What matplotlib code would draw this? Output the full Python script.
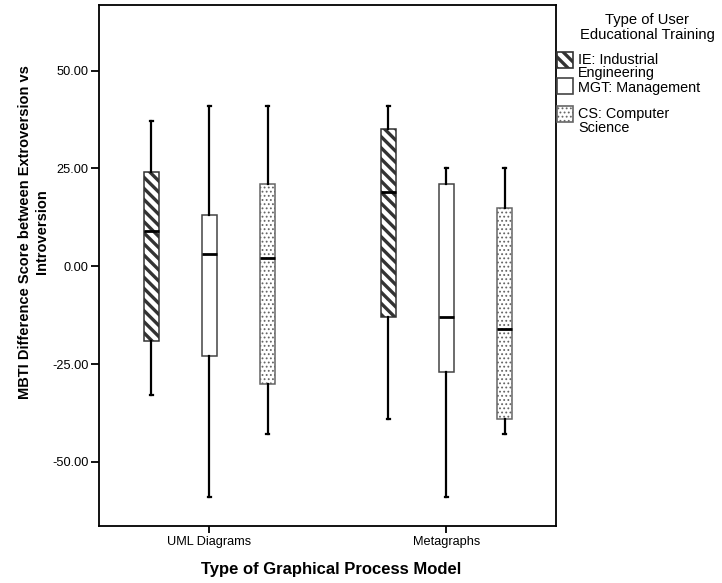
import matplotlib
matplotlib.use('Agg')
import matplotlib.pyplot as plt
from matplotlib.patches import Rectangle
from matplotlib.ticker import FormatStrFormatter

# data
categories = ['UML Diagrams', 'Metagraphs']
groups = ['IE: Industrial\nEngineering', 'MGT: Management', 'CS: Computer\nScience']
whislo = [[-33, -59, -43], [-39, -59, -43]]
q1 = [[-19, -23, -30], [-13, -27, -39]]
med = [[9, 3, 2], [19, -13, -16]]
q3 = [[24, 13, 21], [35, 21, 15]]
whishi = [[37, 41, 41], [41, 25, 25]]
yticks = [-50, -25, 0, 25, 50]

plt.rcParams['font.family'] = ['Liberation Sans', 'DejaVu Sans']
plt.rcParams['hatch.linewidth'] = 2.4

W, H = 722, 583
fig = plt.figure(figsize=(W / 100, H / 100), dpi=100)


def fx(px):
    return px / W


def fy(py):
    return 1 - py / H


ax = fig.add_axes([fx(98.5), fy(526), 457 / W, 521.5 / H])

offsets = [-0.245, 0.0, 0.245]
hatches = ['\\\\\\', '', '....']
edges = ['#333333', '#444444', '#666666']

stats, positions = [], []
for i in range(len(categories)):
    for j in range(len(groups)):
        stats.append(dict(whislo=whislo[i][j], q1=q1[i][j], med=med[i][j],
                          q3=q3[i][j], whishi=whishi[i][j], fliers=[]))
        positions.append(i + offsets[j])

bp = ax.bxp(stats, positions=positions, widths=0.065, patch_artist=True,
            showfliers=False, capwidths=0.012,
            boxprops=dict(facecolor='white', edgecolor='#333333', linewidth=1.1),
            medianprops=dict(color='black', linewidth=2.0),
            whiskerprops=dict(color='black', linewidth=1.6),
            capprops=dict(color='black', linewidth=1.6))

for k, box in enumerate(bp['boxes']):
    j = k % 3
    box.set_hatch(hatches[j])
    box.set_edgecolor(edges[j])
    if j == 2:
        try:
            box.set_hatch_linewidth(0.8)
        except AttributeError:
            pass

ax.set_xlim(-0.468, 1.460)
ax.set_ylim(-66.4, 66.9)
ax.set_xticks([0, 1])
ax.set_xticklabels(categories)
ax.set_yticks(yticks)
ax.yaxis.set_major_formatter(FormatStrFormatter('%.2f'))
ax.tick_params(axis='y', length=6, width=1.3, pad=1, labelsize=9.2)
ax.tick_params(axis='x', length=5, width=1.3, pad=2, labelsize=9.2)
for sp in ax.spines.values():
    sp.set_linewidth(1.3)

# axis titles
fig.text(fx(331), fy(574), 'Type of Graphical Process Model', ha='center',
         va='baseline', fontsize=12, fontweight='bold')
fig.text(fx(29), fy(232), 'MBTI Difference Score between Extroversion vs',
         rotation=90, rotation_mode='anchor', ha='center', va='baseline',
         fontsize=10.5, fontweight='bold')
fig.text(fx(46), fy(232), 'Introversion', rotation=90, rotation_mode='anchor',
         ha='center', va='baseline', fontsize=10.5, fontweight='bold')

# legend drawn by hand to keep the SPSS layout
fig.text(fx(647), fy(24), 'Type of User', ha='center', va='baseline', fontsize=10.6)
fig.text(fx(647), fy(38.5), 'Educational Training', ha='center', va='baseline', fontsize=10.6)
patch_tops = [52, 78, 106]
label_base = [64, 92.5, 118]
for j, grp in enumerate(groups):
    r = Rectangle((fx(557), fy(patch_tops[j] + 16)), 16 / W, 16 / H,
                  transform=fig.transFigure, facecolor='white',
                  edgecolor=edges[j], linewidth=1.2, hatch=hatches[j])
    if j == 2:
        try:
            r.set_hatch_linewidth(0.8)
        except AttributeError:
            pass
    fig.add_artist(r)
    for n, line in enumerate(grp.split('\n')):
        fig.text(fx(578), fy(label_base[j] + n * 13.5), line, ha='left',
                 va='baseline', fontsize=10.4)

fig.savefig('out.png', dpi=100)
